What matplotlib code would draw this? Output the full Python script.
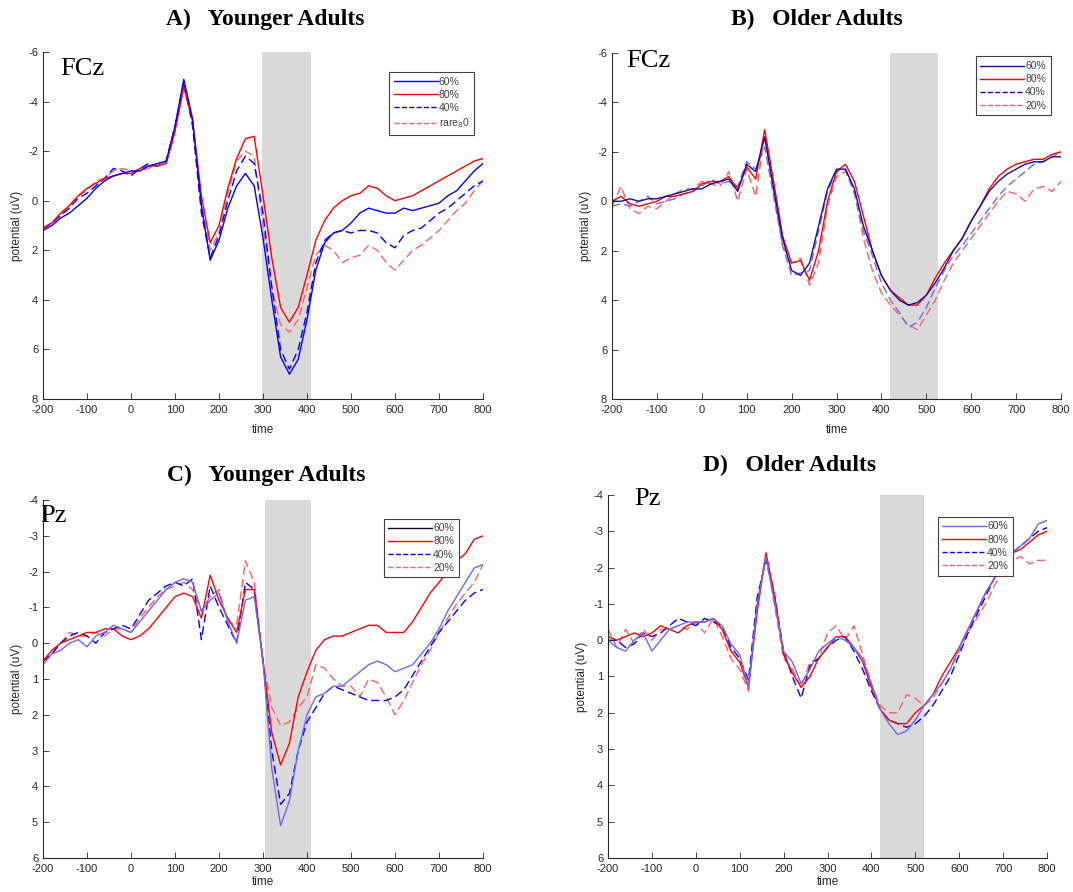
import numpy as np
import matplotlib
matplotlib.use("Agg")
import matplotlib.pyplot as plt
from matplotlib.lines import Line2D

# time grid (ms), shared by every panel
t = np.arange(-200, 801, 20)

# A) younger adults, FCz
a_60 = [1.2, 1.0, 0.7, 0.5, 0.2, -0.1, -0.5, -0.8, -1.0, -1.1, -1.2, -1.2, -1.4, -1.5, -1.6, -3.0, -4.9, -3.3, 0.2, 2.4,
        1.6, 0.3, -0.6, -1.1, -0.6, 1.5, 4.0, 6.3, 7.0, 6.4, 4.8, 2.8, 1.7, 1.3, 1.2, 0.9, 0.5, 0.3, 0.4, 0.5,
        0.5, 0.3, 0.4, 0.3, 0.2, 0.1, -0.2, -0.4, -0.8, -1.2, -1.5]
a_80 = [1.1, 0.9, 0.5, 0.2, -0.2, -0.5, -0.7, -0.9, -1.0, -1.1, -1.1, -1.3, -1.4, -1.4, -1.5, -2.8, -4.6, -3.2, -0.2, 1.7,
        1.0, -0.5, -1.7, -2.5, -2.6, -0.2, 2.3, 4.3, 4.9, 4.3, 3.0, 1.6, 0.8, 0.3, 0.0, -0.2, -0.3, -0.6, -0.5, -0.2,
        0.0, -0.1, -0.2, -0.4, -0.6, -0.8, -1.0, -1.2, -1.4, -1.6, -1.7]
a_40 = [1.1, 0.9, 0.6, 0.3, -0.1, -0.3, -0.6, -0.9, -1.3, -1.2, -1.0, -1.3, -1.5, -1.4, -1.6, -3.0, -4.8, -3.0, 0.5, 2.3,
        1.4, 0.0, -1.2, -1.8, -1.5, 0.5, 3.5, 6.0, 6.8, 6.0, 4.5, 2.5, 1.6, 1.3, 1.2, 1.3, 1.2, 1.2, 1.3, 1.7,
        1.9, 1.4, 1.2, 1.1, 0.8, 0.5, 0.3, 0.0, -0.3, -0.6, -0.8]
a_rare = [1.2, 0.9, 0.6, 0.2, -0.2, -0.4, -0.8, -0.9, -1.2, -1.3, -1.2, -1.2, -1.3, -1.5, -1.5, -2.8, -4.6, -3.2, 0.0, 2.0,
          1.3, -0.3, -1.6, -2.0, -1.8, 1.0, 3.5, 5.0, 5.3, 4.8, 3.5, 2.2, 1.8, 2.0, 2.5, 2.3, 2.2, 1.8, 2.0, 2.5,
          2.8, 2.4, 2.0, 1.8, 1.5, 1.2, 0.8, 0.4, 0.1, -0.4, -0.8]

# B) older adults, FCz
b_60 = [0.0, 0.0, -0.1, 0.0, -0.1, -0.1, -0.2, -0.3, -0.4, -0.5, -0.5, -0.7, -0.8, -0.9, -0.4, -1.5, -1.2, -2.6, -0.5, 1.5,
        2.8, 3.0, 2.5, 1.0, -0.5, -1.3, -1.3, -0.5, 1.0, 2.0, 3.0, 3.6, 4.0, 4.2, 4.1, 3.8, 3.3, 2.7, 2.0, 1.5,
        0.8, 0.2, -0.4, -0.8, -1.1, -1.3, -1.5, -1.6, -1.6, -1.8, -1.8]
b_80 = [0.0, -0.2, 0.1, 0.2, 0.1, 0.0, -0.2, -0.2, -0.3, -0.4, -0.7, -0.8, -0.8, -1.0, -0.5, -1.4, -0.9, -2.9, -0.8, 1.4,
        2.5, 2.4, 3.2, 2.0, 0.0, -1.2, -1.5, -0.8, 0.6, 2.0, 3.0, 3.6, 3.9, 4.2, 4.2, 3.8, 3.1, 2.5, 2.0, 1.5,
        0.8, 0.2, -0.5, -1.0, -1.3, -1.5, -1.6, -1.7, -1.7, -1.9, -2.0]
b_40 = [0.2, 0.1, 0.2, 0.0, -0.2, 0.1, 0.0, -0.1, -0.3, -0.4, -0.6, -0.9, -0.7, -0.8, -0.6, -1.6, -1.3, -2.2, -0.2, 1.8,
        3.0, 2.9, 2.8, 1.2, -0.4, -1.2, -1.3, -0.3, 1.2, 2.2, 3.3, 4.0, 4.5, 5.1, 4.9, 4.3, 3.5, 2.8, 2.2, 1.8,
        1.3, 0.8, 0.3, -0.2, -0.6, -0.9, -1.2, -1.5, -1.6, -1.8, -2.0]
b_20 = [0.2, -0.6, 0.3, 0.5, 0.2, 0.3, 0.0, -0.3, -0.5, -0.5, -0.8, -0.7, -0.6, -1.2, 0.0, -1.3, -0.2, -2.7, -0.4, 1.8,
        2.5, 2.3, 3.4, 2.5, 0.2, -1.0, -1.2, -0.4, 1.5, 2.8, 3.7, 4.2, 4.6, 5.0, 5.2, 4.6, 4.0, 3.2, 2.5, 2.0,
        1.5, 1.0, 0.5, 0.0, -0.4, -0.3, 0.0, -0.5, -0.6, -0.4, -0.8]

# C) younger adults, Pz
c_60 = [0.6, 0.3, 0.2, 0.0, -0.1, 0.1, -0.2, -0.3, -0.5, -0.4, -0.3, -0.6, -0.9, -1.2, -1.5, -1.7, -1.8, -1.7, -0.9, -1.2,
        -1.4, -0.6, 0.0, -1.2, -1.3, 0.5, 3.5, 5.1, 4.4, 3.0, 2.0, 1.5, 1.4, 1.2, 1.2, 1.0, 0.8, 0.6, 0.5, 0.6,
        0.8, 0.7, 0.6, 0.3, 0.0, -0.4, -0.9, -1.3, -1.7, -2.1, -2.2]
c_80 = [0.5, 0.2, 0.0, -0.1, -0.2, -0.3, -0.3, -0.4, -0.4, -0.2, -0.1, -0.2, -0.4, -0.7, -1.0, -1.3, -1.4, -1.3, -0.7, -1.9,
        -1.2, -0.7, -0.3, -1.5, -1.5, 0.5, 2.5, 3.4, 2.8, 1.5, 0.8, 0.2, -0.1, -0.2, -0.2, -0.3, -0.4, -0.5, -0.5, -0.3,
        -0.3, -0.3, -0.6, -1.0, -1.4, -1.7, -2.0, -2.3, -2.5, -2.9, -3.0]
c_40 = [0.5, 0.3, 0.0, -0.2, -0.3, -0.2, 0.0, -0.3, -0.4, -0.5, -0.4, -0.8, -1.2, -1.4, -1.6, -1.7, -1.6, -1.8, -0.1, -1.6,
        -1.0, -0.5, 0.0, -1.7, -1.5, 0.5, 3.0, 4.5, 4.2, 3.0, 2.2, 1.8, 1.4, 1.2, 1.3, 1.4, 1.5, 1.6, 1.6, 1.6,
        1.5, 1.3, 0.9, 0.5, 0.1, -0.3, -0.6, -0.9, -1.2, -1.4, -1.5]
c_20 = [0.5, 0.3, 0.0, -0.3, -0.2, -0.2, -0.3, -0.2, -0.4, -0.4, -0.3, -0.7, -1.0, -1.3, -1.5, -1.6, -1.7, -1.5, -0.9, -1.3,
        -1.5, -0.6, -0.5, -2.3, -1.7, 0.5, 1.8, 2.3, 2.2, 1.8, 1.5, 0.6, 0.7, 1.0, 1.2, 1.2, 1.5, 1.0, 1.1, 1.5,
        2.0, 1.6, 1.1, 0.6, 0.2, -0.3, -0.7, -1.1, -1.4, -1.7, -2.2]

# D) older adults, Pz
d_60 = [0.0, 0.2, 0.3, 0.0, -0.2, 0.3, 0.0, -0.3, -0.4, -0.5, -0.5, -0.5, -0.6, -0.4, 0.1, 0.4, 1.3, -1.0, -2.3, -1.0,
        0.3, 0.6, 1.2, 0.8, 0.3, 0.1, -0.1, 0.0, 0.2, 0.5, 1.2, 1.9, 2.3, 2.6, 2.5, 2.2, 1.8, 1.5, 1.2, 0.8,
        0.2, -0.3, -0.8, -1.3, -1.7, -2.1, -2.4, -2.6, -2.8, -3.2, -3.3]
d_80 = [-0.1, 0.0, -0.1, -0.2, -0.1, -0.2, -0.4, -0.3, -0.2, -0.4, -0.5, -0.5, -0.6, -0.3, 0.3, 0.6, 1.3, -0.8, -2.4, -1.2,
        0.4, 0.9, 1.3, 1.0, 0.5, 0.2, -0.1, -0.1, 0.2, 0.6, 1.3, 1.9, 2.2, 2.3, 2.3, 2.0, 1.8, 1.5, 1.0, 0.6,
        0.2, -0.3, -0.8, -1.3, -1.7, -2.1, -2.4, -2.5, -2.7, -2.9, -3.0]
d_40 = [0.0, 0.0, 0.2, 0.1, -0.2, -0.1, -0.2, -0.4, -0.6, -0.5, -0.4, -0.6, -0.5, -0.4, 0.2, 0.5, 1.1, -1.2, -2.2, -1.2,
        0.3, 1.0, 1.6, 0.7, 0.5, 0.2, 0.0, -0.1, 0.3, 0.8, 1.4, 1.9, 2.2, 2.3, 2.4, 2.3, 2.1, 1.8, 1.4, 1.0,
        0.4, -0.2, -0.7, -1.2, -1.7, -2.1, -2.4, -2.6, -2.8, -3.0, -3.1]
d_20 = [-0.3, 0.2, -0.3, 0.1, -0.3, 0.0, -0.3, -0.3, -0.4, -0.3, -0.5, -0.2, -0.6, -0.1, 0.5, 0.8, 1.4, -1.0, -2.4, -0.9,
        0.5, 0.8, 1.3, 0.6, 0.5, -0.2, -0.4, 0.0, -0.4, 0.4, 1.2, 1.8, 2.0, 2.0, 1.5, 1.6, 1.8, 1.6, 1.2, 0.8,
        0.3, -0.2, -0.6, -1.0, -1.5, -1.9, -2.2, -2.3, -2.1, -2.2, -2.2]

BLUE = "#0000ff"
LBLUE = "#6a6af0"
NAVY = "#1010a0"
RED = "#ff0000"
LRED = "#ff6060"

plt.rcParams["font.family"] = ["Liberation Sans", "DejaVu Sans"]
plt.rcParams["axes.unicode_minus"] = False

W, H = 1073, 892
fig = plt.figure(figsize=(W / 100, H / 100), dpi=100)


def px_rect(x0, x1, ytop, ybot):
    return [x0 / W, 1 - ybot / H, (x1 - x0) / W, (ybot - ytop) / H]


def panel(rect, series, ylim, yticks, shade, legend_entries, legend_anchor, chan, chan_pos, bottom_row):
    ax = fig.add_axes(rect)
    ax.axvspan(shade[0], shade[1], color="#d9d9d9", lw=0, zorder=0)
    for y, c, ls in series:
        ax.plot(t, y, color=c, ls=ls, lw=1.0, dashes=(6, 3) if ls == "--" else (None, None))
    ax.set_xlim(-200, 800)
    ax.set_ylim(ylim[1], ylim[0])
    ax.set_xticks(np.arange(-200, 801, 100))
    ax.set_yticks(yticks)
    ax.spines["top"].set_visible(False)
    ax.spines["right"].set_visible(False)
    for s in ("left", "bottom"):
        ax.spines[s].set_color("#262626")
        ax.spines[s].set_linewidth(0.8)
    ax.tick_params(direction="in", length=4, width=0.6, labelsize=8, colors="#262626")
    ax.tick_params(axis="x", pad=4 if bottom_row else 4.5)
    ax.set_xlabel("time", fontsize=8.5, color="#262626", labelpad=1.5 if bottom_row else 6)
    ax.set_ylabel("potential (uV)", fontsize=8.5, color="#262626", labelpad=4)
    handles = [Line2D([], [], color=c, ls=ls, lw=1.0) for c, ls, _ in legend_entries]
    labels = [lab for _, _, lab in legend_entries]
    leg = ax.legend(handles, labels, loc="upper right", bbox_to_anchor=legend_anchor,
                    fontsize=7.5, handlelength=4.2, handletextpad=0.1, labelspacing=0.3,
                    borderpad=0.45, fancybox=False, framealpha=1, edgecolor="#404040",
                    borderaxespad=0)
    leg.get_frame().set_linewidth(0.8)
    for txt in leg.get_texts():
        txt.set_color("#404040")
    fig.text(chan_pos[0] / W, 1 - chan_pos[1] / H, chan, ha="left", va="top",
             fontsize=19, family="Liberation Serif")
    return ax


panel(px_rect(43, 483, 52, 399),
      [(a_rare, LRED, "--"), (a_40, BLUE, "--"), (a_80, RED, "-"), (a_60, BLUE, "-")],
      (-6, 8), np.arange(-6, 9, 2), (298, 408),
      [(BLUE, "-", "60%"), (RED, "-", "80%"), (BLUE, "--", "40%"), (LRED, "--", "rare$_8$0")],
      (0.98, 0.942), "FCz", (60, 58), False)

panel(px_rect(612, 1061, 53, 399),
      [(b_20, LRED, "--"), (b_40, LBLUE, "--"), (b_80, RED, "-"), (b_60, NAVY, "-")],
      (-6, 8), np.arange(-6, 9, 2), (420, 525),
      [(NAVY, "-", "60%"), (RED, "-", "80%"), (BLUE, "--", "40%"), (LRED, "--", "20%")],
      (0.977, 0.99), "FCz", (626, 50), False)

panel(px_rect(43, 483, 500, 858),
      [(c_20, LRED, "--"), (c_40, BLUE, "--"), (c_80, RED, "-"), (c_60, LBLUE, "-")],
      (-4, 6), np.arange(-4, 7, 1), (305, 410),
      [("#101030", "-", "60%"), (RED, "-", "80%"), (BLUE, "--", "40%"), (LRED, "--", "20%")],
      (0.945, 0.948), "Pz", (40, 505), True)

panel(px_rect(608, 1047, 495, 858),
      [(d_20, LRED, "--"), (d_40, BLUE, "--"), (d_80, RED, "-"), (d_60, LBLUE, "-")],
      (-4, 6), np.arange(-4, 7, 1), (420, 520),
      [(LBLUE, "-", "60%"), (RED, "-", "80%"), (BLUE, "--", "40%"), (LRED, "--", "20%")],
      (0.922, 0.94), "Pz", (634, 488), True)

title_kw = dict(fontsize=17, fontweight="bold", family="Liberation Serif", ha="center", va="center")
fig.text(265 / W, 1 - 19 / H, "A)   Younger Adults", **title_kw)
fig.text(817 / W, 1 - 19 / H, "B)   Older Adults", **title_kw)
fig.text(266 / W, 1 - 475 / H, "C)   Younger Adults", **title_kw)
fig.text(790 / W, 1 - 465 / H, "D)   Older Adults", **title_kw)

fig.savefig("out.png", dpi=100)
